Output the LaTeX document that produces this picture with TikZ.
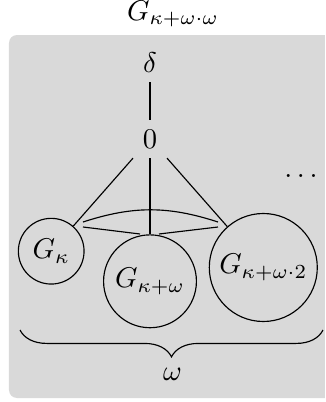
\documentclass[tikz,border=0pt]{standalone}
\usetikzlibrary{decorations.pathreplacing}
\definecolor{panelgray}{RGB}{217,217,217}
\tikzset{
  lbl/.style={anchor=base,inner sep=3.33pt},
  gcirc/.style={draw,circle,inner sep=0pt},
  conn/.style={draw,line width=0.4pt}
}
\begin{document}
\begin{tikzpicture}[x=0.35pt,y=0.35pt]
\useasboundingbox (0,0) rectangle (325,402);
\clip (0,0) rectangle (325,402);
\fill[panelgray,rounded corners=2.8pt] (9,4) rectangle (345,367);
\node[lbl] (title) at (173,382) {$G_{\kappa+\omega\cdot\omega}$};
\node[lbl] (delta) at (150,330) {$\delta$};
\node[lbl] (zero) at (150,254) {$0$};
\node[gcirc,minimum size=23pt] (gk) at (51.2,150.8) {$G_\kappa$};
\node[gcirc,minimum size=32.5pt] (gm) at (150,120.7) {$G_{\kappa+\omega}$};
\node[gcirc,minimum size=37.8pt] (gr) at (263.3,134.5) {$G_{\kappa+\omega\cdot 2}$};
\node[lbl] (dots) at (301,224.5) {$\dots$};
\node[lbl] (om) at (172.5,22) {$\omega$};
\coordinate (ua) at (83,180);
\coordinate (ub) at (218,180);
\coordinate (la) at (83,175);
\coordinate (lb) at (140,168);
\coordinate (lc) at (159,168);
\coordinate (ld) at (218,175);
\coordinate (bra) at (20,72);
\coordinate (brb) at (323,72);
\draw[conn] (delta) -- (zero);
\draw[conn] (zero) -- (gk);
\draw[conn] (zero) -- (gm);
\draw[conn] (zero) -- (gr);
\draw[conn] (ua) to[bend left=18] (ub);
\draw[conn] (la) -- (lb);
\draw[conn] (lc) -- (ld);
\draw[conn,decorate,decoration={brace,mirror,amplitude=9.4pt}] (bra) -- (brb);
\end{tikzpicture}
\end{document}
